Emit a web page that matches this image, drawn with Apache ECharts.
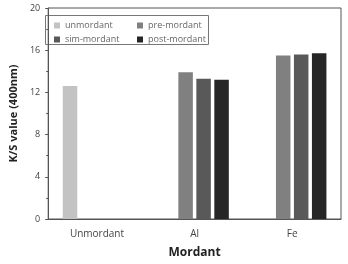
<!DOCTYPE html>
<html>
<head>
<meta charset="utf-8">
<script src="https://cdn.jsdelivr.net/npm/echarts@6/dist/echarts.min.js"></script>
<style>
html,body{margin:0;padding:0;background:#fff;}
#chart{width:348px;height:264px;}
</style>
</head>
<body>
<div id="chart"></div>
<script>
var categories = ['Unmordant', 'Al', 'Fe'];
var seriesNames = ['unmordant', 'pre-mordant', 'sim-mordant', 'post-mordant'];
var unmordant = [12.6, null, null];
var preMordant = [null, 13.9, 15.5];
var simMordant = [null, 13.3, 15.6];
var postMordant = [null, 13.2, 15.7];
var yTicks = [0, 4, 8, 12, 16, 20];

var colors = ['#c3c3c3', '#808080', '#595959', '#262626'];
var values = [unmordant, preMordant, simMordant, postMordant];

var series = [];
for (var i = 0; i < seriesNames.length; i++) {
	series.push({
		name: seriesNames[i],
		type: 'bar',
		data: values[i],
		barWidth: 14.5,
		barGap: '24%',
		itemStyle: {color: colors[i]}
	});
}

// two columns of legend, boxed by one rect
var legendBase = {
	orient: 'vertical',
	top: 20,
	padding: 0,
	itemGap: 3,
	itemWidth: 6,
	itemHeight: 6,
	icon: 'rect',
	textStyle: {fontSize: 9, color: '#666', lineHeight: 11}
};

var chart = echarts.init(document.getElementById('chart'));
chart.setOption({
	animation: false,
	textStyle: {fontFamily: 'Open Sans'},
	legend: [
		Object.assign({}, legendBase, {left: 54, data: [seriesNames[0], seriesNames[2]]}),
		Object.assign({}, legendBase, {left: 137, data: [seriesNames[1], seriesNames[3]]})
	],
	graphic: [{
		type: 'rect',
		shape: {x: 45.5, y: 15.5, width: 163, height: 29},
		style: {fill: 'none', stroke: '#777', lineWidth: 1}
	}],
	grid: {
		left: 37, right: 7, top: 8, bottom: 41,
		show: true, borderColor: '#555', borderWidth: 1
	},
	xAxis: {
		type: 'category',
		data: categories,
		name: 'Mordant',
		nameLocation: 'middle',
		nameGap: 28,
		nameTextStyle: {fontSize: 12, fontWeight: 'bold', color: '#222'},
		axisLine: {lineStyle: {color: '#555'}},
		axisTick: {show: false},
		axisLabel: {fontSize: 10, color: '#444', margin: 10}
	},
	yAxis: {
		type: 'value',
		min: yTicks[0],
		max: yTicks[yTicks.length - 1],
		interval: 4,
		name: 'K/S value (400nm)',
		nameLocation: 'middle',
		nameGap: 24,
		nameTextStyle: {fontSize: 11, fontWeight: 'bold', color: '#222'},
		axisLine: {show: true, lineStyle: {color: '#555'}},
		axisTick: {show: true, length: 3, lineStyle: {color: '#555'}},
		minorTick: {show: true, splitNumber: 2, length: 2, lineStyle: {color: '#555'}},
		splitLine: {show: false},
		axisLabel: {fontSize: 9, color: '#444', margin: 8}
	},
	series: series
});
</script>
</body>
</html>
